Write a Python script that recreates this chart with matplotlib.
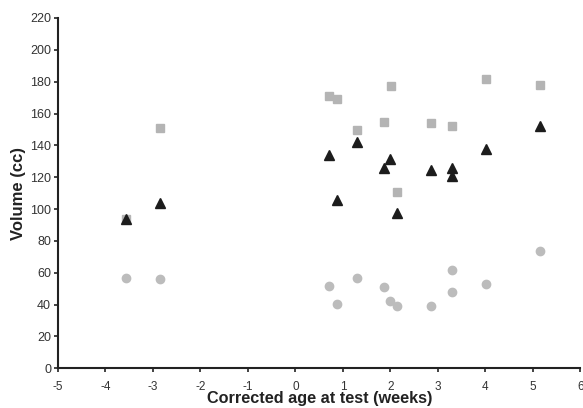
import matplotlib
matplotlib.use("Agg")
from matplotlib import pyplot as plt

# squares (light grey)
sq_x = [-3.57, -2.85, 0.71, 0.87, 1.29, 1.86, 2.02, 2.14, 2.86, 3.29, 4.01, 5.15]
sq_y = [93.6, 151, 171.2, 169.2, 149.7, 154.5, 177.5, 110.7, 153.9, 152.4, 181.7, 178]

# triangles (black)
tri_x = [-3.57, -2.85, 0.71, 0.87, 1.29, 1.86, 2.0, 2.14, 2.86, 3.29, 3.29, 4.01, 5.15]
tri_y = [93.6, 103.6, 134, 105.7, 142, 125.6, 131.5, 97.4, 124.6, 125.6, 121, 137.6, 152.2]

# circles (grey)
circ_x = [-3.57, -2.85, 0.71, 0.87, 1.29, 1.86, 2.0, 2.14, 2.86, 3.29, 3.29, 4.01, 5.15]
circ_y = [56.9, 55.9, 51.7, 40.4, 56.5, 50.9, 42.3, 39.3, 39.1, 61.7, 48.1, 52.8, 73.7]

plt.rcParams['font.family'] = ['Liberation Sans', 'DejaVu Sans']
plt.rcParams['axes.unicode_minus'] = False

fig = plt.figure(figsize=(5.83, 4.08), dpi=100)
ax = fig.add_axes([0.0995, 0.0973, 0.896, 0.8586])

ax.plot(sq_x, sq_y, linestyle="none", marker="s", markersize=6, color="#b4b4b4")
ax.plot(circ_x, circ_y, linestyle="none", marker="o", markersize=6, color="#bcbcbc")
ax.plot(tri_x, tri_y, linestyle="none", marker="^", markersize=6.5, color="#1c1c1c")

ax.set_xlim(-5, 6)
ax.set_ylim(0, 220)
ax.set_xticks(range(-5, 7))
ax.set_yticks(range(0, 221, 20))

for side in ["top", "right"]:
    ax.spines[side].set_visible(False)
for side in ["left", "bottom"]:
    ax.spines[side].set_linewidth(1.5)
    ax.spines[side].set_color("#222222")

ax.tick_params(axis="both", direction="out", length=3, width=1.2, color="#222222",
               labelsize=9, labelcolor="#333333")
ax.tick_params(axis="x", pad=6, labelsize=8.5)
ax.tick_params(axis="y", pad=2)

ax.set_xlabel("Corrected age at test (weeks)", fontsize=11.7, fontweight="bold",
              color="#222222", labelpad=-1)
ax.set_ylabel("Volume (cc)", fontsize=12, fontweight="bold", color="#222222", labelpad=3)

fig.savefig("out.png", dpi=100)
